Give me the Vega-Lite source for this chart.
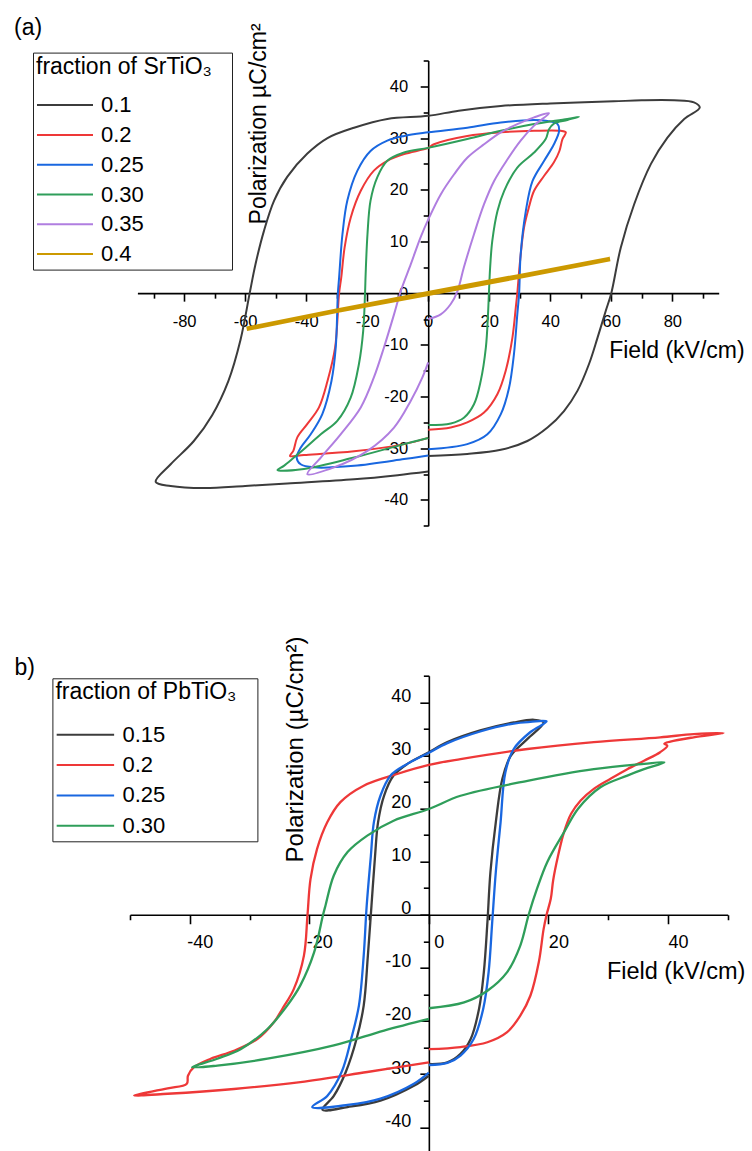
{
"$schema": "https://vega.github.io/schema/vega-lite/v6.json",
"background": "white",
"padding": {"left": 14, "top": 16.5, "right": 0, "bottom": 0},
"config": {
 "font": "Liberation Sans",
 "view": {"stroke": null},
 "axis": {"grid": false, "domainColor": "#000", "tickColor": "#000", "labelColor": "#000", "titleColor": "#000", "titleFontWeight": "normal", "domainWidth": 1.6, "tickWidth": 1.6, "labelFlush": false, "labelOverlap": false, "labelBound": false},
 "legend": {"titleFontWeight": "normal", "titleColor": "#000", "labelColor": "#000"},
 "title": {"fontWeight": "normal", "color": "#000"}
},
"datasets": {
"a": [
{"s":"0.1","i":0,"E":0,"P":-31.5},{"s":"0.1","i":1,"E":12.8,"P":-31.1},{"s":"0.1","i":2,"E":23.8,"P":-30.3},{"s":"0.1","i":3,"E":32.5,"P":-28.6},{"s":"0.1","i":4,"E":39.1,"P":-26.0},{"s":"0.1","i":5,"E":44.5,"P":-22.8},{"s":"0.1","i":6,"E":48.9,"P":-18.9},{"s":"0.1","i":7,"E":52.7,"P":-13.7},{"s":"0.1","i":8,"E":55.5,"P":-8.6},{"s":"0.1","i":9,"E":58.2,"P":-3.4},{"s":"0.1","i":10,"E":60,"P":0},{"s":"0.1","i":11,"E":63.1,"P":8.8},{"s":"0.1","i":12,"E":67.5,"P":17.2},{"s":"0.1","i":13,"E":73.0,"P":25.0},{"s":"0.1","i":14,"E":78.4,"P":30.1},{"s":"0.1","i":15,"E":83.9,"P":33.7},{"s":"0.1","i":16,"E":89,"P":35.9},{"s":"0.1","i":17,"E":87.1,"P":36.9},{"s":"0.1","i":18,"E":80.6,"P":37.3},{"s":"0.1","i":19,"E":70,"P":37.3},{"s":"0.1","i":20,"E":60.8,"P":37.1},{"s":"0.1","i":21,"E":40,"P":36.7},{"s":"0.1","i":22,"E":23.8,"P":36.2},{"s":"0.1","i":23,"E":10,"P":35.3},{"s":"0.1","i":24,"E":0,"P":34.3},{"s":"0.1","i":25,"E":-13.4,"P":33.7},{"s":"0.1","i":26,"E":-24.3,"P":32.0},{"s":"0.1","i":27,"E":-33.0,"P":30.0},{"s":"0.1","i":28,"E":-39.6,"P":27.0},{"s":"0.1","i":29,"E":-46.2,"P":22.5},{"s":"0.1","i":30,"E":-50.5,"P":17.9},{"s":"0.1","i":31,"E":-53.8,"P":12.1},{"s":"0.1","i":32,"E":-56.6,"P":5.6},{"s":"0.1","i":33,"E":-58.5,"P":0},{"s":"0.1","i":34,"E":-61.5,"P":-9},{"s":"0.1","i":35,"E":-65.5,"P":-17},{"s":"0.1","i":36,"E":-70.8,"P":-23.6},{"s":"0.1","i":37,"E":-76.8,"P":-28.6},{"s":"0.1","i":38,"E":-84.4,"P":-33.1},{"s":"0.1","i":39,"E":-89.3,"P":-36.5},{"s":"0.1","i":40,"E":-84.4,"P":-37.3},{"s":"0.1","i":41,"E":-73.5,"P":-37.7},{"s":"0.1","i":42,"E":-60,"P":-37.3},{"s":"0.1","i":43,"E":-46.2,"P":-36.8},{"s":"0.1","i":44,"E":-24.3,"P":-36.0},{"s":"0.1","i":45,"E":-10,"P":-35.2},{"s":"0.1","i":46,"E":0,"P":-34.5},
{"s":"0.2","i":0,"E":0,"P":-26.4},{"s":"0.2","i":1,"E":7.4,"P":-26.0},{"s":"0.2","i":2,"E":12.8,"P":-25.0},{"s":"0.2","i":3,"E":18.3,"P":-23.1},{"s":"0.2","i":4,"E":22.7,"P":-19.5},{"s":"0.2","i":5,"E":25.4,"P":-15.0},{"s":"0.2","i":6,"E":27.6,"P":-8.6},{"s":"0.2","i":7,"E":28.7,"P":-2.8},{"s":"0.2","i":8,"E":29.2,"P":0},{"s":"0.2","i":9,"E":30.1,"P":6.2},{"s":"0.2","i":10,"E":31.4,"P":12.7},{"s":"0.2","i":11,"E":33.0,"P":16.6},{"s":"0.2","i":12,"E":34.7,"P":19.8},{"s":"0.2","i":13,"E":38.0,"P":22.7},{"s":"0.2","i":14,"E":41.2,"P":25.3},{"s":"0.2","i":15,"E":43.0,"P":27.5},{"s":"0.2","i":16,"E":44.0,"P":29.8},{"s":"0.2","i":17,"E":45.1,"P":31.1},{"s":"0.2","i":18,"E":43.4,"P":31.4},{"s":"0.2","i":19,"E":34.7,"P":31.4},{"s":"0.2","i":20,"E":23.8,"P":31.1},{"s":"0.2","i":21,"E":12.8,"P":30.4},{"s":"0.2","i":22,"E":1.9,"P":28.8},{"s":"0.2","i":23,"E":0,"P":28.1},{"s":"0.2","i":24,"E":-7.9,"P":26.9},{"s":"0.2","i":25,"E":-13.4,"P":25.6},{"s":"0.2","i":26,"E":-17.8,"P":23.7},{"s":"0.2","i":27,"E":-22.1,"P":19.8},{"s":"0.2","i":28,"E":-25.4,"P":14.6},{"s":"0.2","i":29,"E":-27.4,"P":8.8},{"s":"0.2","i":30,"E":-28.5,"P":3.0},{"s":"0.2","i":31,"E":-29.2,"P":0},{"s":"0.2","i":32,"E":-30.5,"P":-10.5},{"s":"0.2","i":33,"E":-33,"P":-17},{"s":"0.2","i":34,"E":-35.8,"P":-22.1},{"s":"0.2","i":35,"E":-39.6,"P":-25.3},{"s":"0.2","i":36,"E":-42.9,"P":-27.9},{"s":"0.2","i":37,"E":-44.2,"P":-30.5},{"s":"0.2","i":38,"E":-45.3,"P":-31.5},{"s":"0.2","i":39,"E":-40.7,"P":-31.3},{"s":"0.2","i":40,"E":-24.3,"P":-30.6},{"s":"0.2","i":41,"E":-7.9,"P":-29.2},{"s":"0.2","i":42,"E":0,"P":-28.0},
{"s":"0.25","i":0,"E":0,"P":-30.2},{"s":"0.25","i":1,"E":12.8,"P":-29.2},{"s":"0.25","i":2,"E":19.4,"P":-27.3},{"s":"0.25","i":3,"E":23.8,"P":-23.4},{"s":"0.25","i":4,"E":26.5,"P":-18.3},{"s":"0.25","i":5,"E":28.1,"P":-11.8},{"s":"0.25","i":6,"E":29.2,"P":-4.1},{"s":"0.25","i":7,"E":29.8,"P":0},{"s":"0.25","i":8,"E":30.3,"P":7.5},{"s":"0.25","i":9,"E":32.0,"P":15.9},{"s":"0.25","i":10,"E":34.2,"P":21.7},{"s":"0.25","i":11,"E":38.0,"P":25.6},{"s":"0.25","i":12,"E":41.2,"P":28.8},{"s":"0.25","i":13,"E":42.9,"P":31.4},{"s":"0.25","i":14,"E":42.4,"P":32.7},{"s":"0.25","i":15,"E":39.1,"P":33.3},{"s":"0.25","i":16,"E":34.7,"P":33.5},{"s":"0.25","i":17,"E":23.8,"P":33.0},{"s":"0.25","i":18,"E":12.8,"P":32.0},{"s":"0.25","i":19,"E":0,"P":31.1},{"s":"0.25","i":20,"E":-7.9,"P":30.4},{"s":"0.25","i":21,"E":-13.4,"P":29.5},{"s":"0.25","i":22,"E":-18.9,"P":27.5},{"s":"0.25","i":23,"E":-23.2,"P":23.7},{"s":"0.25","i":24,"E":-26.5,"P":17.9},{"s":"0.25","i":25,"E":-28.1,"P":11.4},{"s":"0.25","i":26,"E":-29.2,"P":3.0},{"s":"0.25","i":27,"E":-29.6,"P":0},{"s":"0.25","i":28,"E":-30.3,"P":-10.5},{"s":"0.25","i":29,"E":-31.7,"P":-17},{"s":"0.25","i":30,"E":-34.7,"P":-23.4},{"s":"0.25","i":31,"E":-38.5,"P":-27.3},{"s":"0.25","i":32,"E":-41.8,"P":-29.9},{"s":"0.25","i":33,"E":-43.1,"P":-31.8},{"s":"0.25","i":34,"E":-41.8,"P":-33.1},{"s":"0.25","i":35,"E":-37.4,"P":-33.7},{"s":"0.25","i":36,"E":-24.3,"P":-33.4},{"s":"0.25","i":37,"E":-7.9,"P":-32.1},{"s":"0.25","i":38,"E":0,"P":-31.4},
{"s":"0.30","i":0,"E":0,"P":-25.5},{"s":"0.30","i":1,"E":7.4,"P":-25.2},{"s":"0.30","i":2,"E":11.7,"P":-24.1},{"s":"0.30","i":3,"E":15,"P":-21.5},{"s":"0.30","i":4,"E":17.2,"P":-17},{"s":"0.30","i":5,"E":18.9,"P":-10.5},{"s":"0.30","i":6,"E":19.6,"P":-4.1},{"s":"0.30","i":7,"E":19.9,"P":0},{"s":"0.30","i":8,"E":20.3,"P":5.0},{"s":"0.30","i":9,"E":21.0,"P":10.1},{"s":"0.30","i":10,"E":22.7,"P":15.9},{"s":"0.30","i":11,"E":24.9,"P":19.8},{"s":"0.30","i":12,"E":29.2,"P":24.3},{"s":"0.30","i":13,"E":34.7,"P":27.2},{"s":"0.30","i":14,"E":38.5,"P":29.8},{"s":"0.30","i":15,"E":39.6,"P":31.7},{"s":"0.30","i":16,"E":41.2,"P":32.8},{"s":"0.30","i":17,"E":45.6,"P":33.5},{"s":"0.30","i":18,"E":49.4,"P":34.1},{"s":"0.30","i":19,"E":45.6,"P":33.7},{"s":"0.30","i":20,"E":34.7,"P":32.7},{"s":"0.30","i":21,"E":23.8,"P":31.4},{"s":"0.30","i":22,"E":12.8,"P":29.8},{"s":"0.30","i":23,"E":0,"P":28.1},{"s":"0.30","i":24,"E":-7.9,"P":27.2},{"s":"0.30","i":25,"E":-13.4,"P":25.6},{"s":"0.30","i":26,"E":-16.7,"P":22.4},{"s":"0.30","i":27,"E":-18.9,"P":17.9},{"s":"0.30","i":28,"E":-19.9,"P":11.4},{"s":"0.30","i":29,"E":-20.5,"P":3.7},{"s":"0.30","i":30,"E":-20.7,"P":0},{"s":"0.30","i":31,"E":-21.3,"P":-7.3},{"s":"0.30","i":32,"E":-22.7,"P":-13.7},{"s":"0.30","i":33,"E":-25.4,"P":-20.2},{"s":"0.30","i":34,"E":-29.8,"P":-24.7},{"s":"0.30","i":35,"E":-35.2,"P":-27.3},{"s":"0.30","i":36,"E":-40.2,"P":-29.9},{"s":"0.30","i":37,"E":-44,"P":-31.8},{"s":"0.30","i":38,"E":-47.3,"P":-33.4},{"s":"0.30","i":39,"E":-49.4,"P":-34.2},{"s":"0.30","i":40,"E":-40.7,"P":-34.0},{"s":"0.30","i":41,"E":-24.3,"P":-31.8},{"s":"0.30","i":42,"E":-7.9,"P":-29.2},{"s":"0.30","i":43,"E":0,"P":-28.0},
{"s":"0.35","i":0,"E":0,"P":-5.0},{"s":"0.35","i":1,"E":4.1,"P":-4.1},{"s":"0.35","i":2,"E":7.4,"P":-2.1},{"s":"0.35","i":3,"E":9.6,"P":0.4},{"s":"0.35","i":4,"E":11.7,"P":5.0},{"s":"0.35","i":5,"E":15.0,"P":11.4},{"s":"0.35","i":6,"E":18.3,"P":17.2},{"s":"0.35","i":7,"E":21.6,"P":21.7},{"s":"0.35","i":8,"E":26.0,"P":25.9},{"s":"0.35","i":9,"E":30.3,"P":29.5},{"s":"0.35","i":10,"E":34.7,"P":32.4},{"s":"0.35","i":11,"E":39.6,"P":34.8},{"s":"0.35","i":12,"E":34.7,"P":34.0},{"s":"0.35","i":13,"E":29.2,"P":32.7},{"s":"0.35","i":14,"E":23.8,"P":31.1},{"s":"0.35","i":15,"E":18.3,"P":28.8},{"s":"0.35","i":16,"E":12.8,"P":26.2},{"s":"0.35","i":17,"E":8.5,"P":23.0},{"s":"0.35","i":18,"E":4.1,"P":19.1},{"s":"0.35","i":19,"E":0.3,"P":14.6},{"s":"0.35","i":20,"E":-2.5,"P":10.8},{"s":"0.35","i":21,"E":-5.7,"P":5.6},{"s":"0.35","i":22,"E":-9.0,"P":0.4},{"s":"0.35","i":23,"E":-11.2,"P":-4.1},{"s":"0.35","i":24,"E":-14.5,"P":-10.5},{"s":"0.35","i":25,"E":-17.8,"P":-16.3},{"s":"0.35","i":26,"E":-22.1,"P":-22.1},{"s":"0.35","i":27,"E":-28.7,"P":-27.3},{"s":"0.35","i":28,"E":-35.2,"P":-31.8},{"s":"0.35","i":29,"E":-39.6,"P":-35.0},{"s":"0.35","i":30,"E":-30.9,"P":-33.7},{"s":"0.35","i":31,"E":-19.9,"P":-30.5},{"s":"0.35","i":32,"E":-11.2,"P":-26.0},{"s":"0.35","i":33,"E":-5.7,"P":-20.8},{"s":"0.35","i":34,"E":-1.9,"P":-16.3},{"s":"0.35","i":35,"E":0,"P":-13.4},
{"s":"0.4","i":0,"E":0,"P":0},{"s":"0.4","i":1,"E":30,"P":3.3},{"s":"0.4","i":2,"E":59.6,"P":6.6},{"s":"0.4","i":3,"E":30,"P":3.2},{"s":"0.4","i":4,"E":0,"P":-0.1},{"s":"0.4","i":5,"E":-30,"P":-3.4},{"s":"0.4","i":6,"E":-59.5,"P":-6.9},{"s":"0.4","i":7,"E":-30,"P":-3.4},{"s":"0.4","i":8,"E":0,"P":0}
],
"b": [
{"s":"0.15","i":0,"E":0,"P":-28.1},{"s":"0.15","i":1,"E":3.1,"P":-27.8},{"s":"0.15","i":2,"E":5.3,"P":-26.2},{"s":"0.15","i":3,"E":7.0,"P":-23.4},{"s":"0.15","i":4,"E":8.4,"P":-17.7},{"s":"0.15","i":5,"E":9.2,"P":-10.8},{"s":"0.15","i":6,"E":9.8,"P":-1.4},{"s":"0.15","i":7,"E":10.3,"P":8.0},{"s":"0.15","i":8,"E":11.2,"P":17.4},{"s":"0.15","i":9,"E":12.3,"P":25.6},{"s":"0.15","i":10,"E":13.7,"P":29.9},{"s":"0.15","i":11,"E":16.5,"P":33.1},{"s":"0.15","i":12,"E":19.2,"P":36.2},{"s":"0.15","i":13,"E":17.6,"P":36.7},{"s":"0.15","i":14,"E":14.2,"P":36.2},{"s":"0.15","i":15,"E":8.6,"P":34.7},{"s":"0.15","i":16,"E":3.1,"P":32.5},{"s":"0.15","i":17,"E":0,"P":30.6},{"s":"0.15","i":18,"E":-3.6,"P":28.4},{"s":"0.15","i":19,"E":-5.9,"P":26.2},{"s":"0.15","i":20,"E":-7.5,"P":22.4},{"s":"0.15","i":21,"E":-8.5,"P":17.4},{"s":"0.15","i":22,"E":-9.0,"P":11.1},{"s":"0.15","i":23,"E":-9.6,"P":1.7},{"s":"0.15","i":24,"E":-10.2,"P":-7.7},{"s":"0.15","i":25,"E":-10.9,"P":-17.1},{"s":"0.15","i":26,"E":-12.1,"P":-23.4},{"s":"0.15","i":27,"E":-13.9,"P":-29.6},{"s":"0.15","i":28,"E":-15.9,"P":-34.1},{"s":"0.15","i":29,"E":-17.8,"P":-36.7},{"s":"0.15","i":30,"E":-13.6,"P":-36.2},{"s":"0.15","i":31,"E":-8.1,"P":-35.0},{"s":"0.15","i":32,"E":-2.5,"P":-32.2},{"s":"0.15","i":33,"E":0,"P":-30.3},
{"s":"0.2","i":0,"E":0,"P":-25.3},{"s":"0.2","i":1,"E":5.3,"P":-24.9},{"s":"0.2","i":2,"E":9.8,"P":-24.0},{"s":"0.2","i":3,"E":13.1,"P":-22.1},{"s":"0.2","i":4,"E":15.3,"P":-19.0},{"s":"0.2","i":5,"E":17.0,"P":-15.2},{"s":"0.2","i":6,"E":18.4,"P":-8.9},{"s":"0.2","i":7,"E":19.2,"P":-2.7},{"s":"0.2","i":8,"E":19.7,"P":0},{"s":"0.2","i":9,"E":20.4,"P":3.0},{"s":"0.2","i":10,"E":20.8,"P":6.5},{"s":"0.2","i":11,"E":21.6,"P":11},{"s":"0.2","i":12,"E":22.6,"P":15.5},{"s":"0.2","i":13,"E":23.8,"P":19},{"s":"0.2","i":14,"E":25.4,"P":21.5},{"s":"0.2","i":15,"E":27.6,"P":23.7},{"s":"0.2","i":16,"E":30.4,"P":25.6},{"s":"0.2","i":17,"E":33.2,"P":27.4},{"s":"0.2","i":18,"E":36.0,"P":29.0},{"s":"0.2","i":19,"E":38.7,"P":30.6},{"s":"0.2","i":20,"E":39.9,"P":31.8},{"s":"0.2","i":21,"E":39.4,"P":32.2},{"s":"0.2","i":22,"E":40.4,"P":32.6},{"s":"0.2","i":23,"E":44.3,"P":33.4},{"s":"0.2","i":24,"E":49.3,"P":34.2},{"s":"0.2","i":25,"E":44.3,"P":34.0},{"s":"0.2","i":26,"E":38.7,"P":33.4},{"s":"0.2","i":27,"E":27.6,"P":32.5},{"s":"0.2","i":28,"E":16.5,"P":31.2},{"s":"0.2","i":29,"E":5.3,"P":29.3},{"s":"0.2","i":30,"E":0,"P":28.2},{"s":"0.2","i":31,"E":-5.3,"P":26.5},{"s":"0.2","i":32,"E":-10.9,"P":24.3},{"s":"0.2","i":33,"E":-14.8,"P":21.2},{"s":"0.2","i":34,"E":-17.0,"P":17.4},{"s":"0.2","i":35,"E":-18.7,"P":12.4},{"s":"0.2","i":36,"E":-19.8,"P":6.7},{"s":"0.2","i":37,"E":-20.3,"P":0},{"s":"0.2","i":38,"E":-20.9,"P":-7.7},{"s":"0.2","i":39,"E":-22.6,"P":-14.0},{"s":"0.2","i":40,"E":-24.5,"P":-17.7},{"s":"0.2","i":41,"E":-25.9,"P":-20.2},{"s":"0.2","i":42,"E":-28.7,"P":-23.4},{"s":"0.2","i":43,"E":-32.6,"P":-25.6},{"s":"0.2","i":44,"E":-36.5,"P":-27.1},{"s":"0.2","i":45,"E":-39.3,"P":-28.7},{"s":"0.2","i":46,"E":-40.3,"P":-30.3},{"s":"0.2","i":47,"E":-40.5,"P":-31.8},{"s":"0.2","i":48,"E":-43.7,"P":-32.7},{"s":"0.2","i":49,"E":-49.3,"P":-34.0},{"s":"0.2","i":50,"E":-43.7,"P":-33.7},{"s":"0.2","i":51,"E":-32.6,"P":-32.8},{"s":"0.2","i":52,"E":-21.5,"P":-31.5},{"s":"0.2","i":53,"E":-10.3,"P":-29.6},{"s":"0.2","i":54,"E":0,"P":-27.8},
{"s":"0.25","i":0,"E":0,"P":-28.3},{"s":"0.25","i":1,"E":3.1,"P":-27.9},{"s":"0.25","i":2,"E":5.3,"P":-26.5},{"s":"0.25","i":3,"E":7.5,"P":-23.4},{"s":"0.25","i":4,"E":9.1,"P":-17.7},{"s":"0.25","i":5,"E":10.0,"P":-10.8},{"s":"0.25","i":6,"E":10.6,"P":-1.4},{"s":"0.25","i":7,"E":11.2,"P":8.0},{"s":"0.25","i":8,"E":12.0,"P":17.4},{"s":"0.25","i":9,"E":12.8,"P":26.8},{"s":"0.25","i":10,"E":14.2,"P":31.2},{"s":"0.25","i":11,"E":17.0,"P":34.4},{"s":"0.25","i":12,"E":19.7,"P":36.4},{"s":"0.25","i":13,"E":17.0,"P":36.3},{"s":"0.25","i":14,"E":14.2,"P":36.0},{"s":"0.25","i":15,"E":8.6,"P":34.5},{"s":"0.25","i":16,"E":3.1,"P":32.3},{"s":"0.25","i":17,"E":0,"P":30.5},{"s":"0.25","i":18,"E":-3.6,"P":28.4},{"s":"0.25","i":19,"E":-6.4,"P":26.2},{"s":"0.25","i":20,"E":-8.1,"P":22.4},{"s":"0.25","i":21,"E":-9.2,"P":17.4},{"s":"0.25","i":22,"E":-9.7,"P":11.1},{"s":"0.25","i":23,"E":-10.4,"P":1.7},{"s":"0.25","i":24,"E":-10.9,"P":-7.7},{"s":"0.25","i":25,"E":-11.7,"P":-17.1},{"s":"0.25","i":26,"E":-13.0,"P":-23.4},{"s":"0.25","i":27,"E":-14.6,"P":-29.6},{"s":"0.25","i":28,"E":-17.0,"P":-34.1},{"s":"0.25","i":29,"E":-19.5,"P":-36.2},{"s":"0.25","i":30,"E":-13.6,"P":-35.8},{"s":"0.25","i":31,"E":-8.1,"P":-34.6},{"s":"0.25","i":32,"E":-2.5,"P":-31.8},{"s":"0.25","i":33,"E":0,"P":-29.7},
{"s":"0.30","i":0,"E":0,"P":-17.6},{"s":"0.30","i":1,"E":5.9,"P":-16.5},{"s":"0.30","i":2,"E":9.8,"P":-14.3},{"s":"0.30","i":3,"E":13.1,"P":-10.8},{"s":"0.30","i":4,"E":15.3,"P":-5.8},{"s":"0.30","i":5,"E":16.7,"P":0},{"s":"0.30","i":6,"E":18.1,"P":4.9},{"s":"0.30","i":7,"E":19.8,"P":9.9},{"s":"0.30","i":8,"E":22.6,"P":15.5},{"s":"0.30","i":9,"E":25.0,"P":20.0},{"s":"0.30","i":10,"E":28.7,"P":24.0},{"s":"0.30","i":11,"E":33.2,"P":26.2},{"s":"0.30","i":12,"E":36.0,"P":27.4},{"s":"0.30","i":13,"E":39.4,"P":28.7},{"s":"0.30","i":14,"E":36.0,"P":28.4},{"s":"0.30","i":15,"E":27.6,"P":27.4},{"s":"0.30","i":16,"E":16.5,"P":25.2},{"s":"0.30","i":17,"E":5.3,"P":22.4},{"s":"0.30","i":18,"E":0,"P":19.9},{"s":"0.30","i":19,"E":-5.9,"P":17.7},{"s":"0.30","i":20,"E":-10.3,"P":14.9},{"s":"0.30","i":21,"E":-13.6,"P":11.8},{"s":"0.30","i":22,"E":-15.9,"P":7.4},{"s":"0.30","i":23,"E":-17.3,"P":1.7},{"s":"0.30","i":24,"E":-17.7,"P":0},{"s":"0.30","i":25,"E":-19.2,"P":-7.1},{"s":"0.30","i":26,"E":-21.5,"P":-13.3},{"s":"0.30","i":27,"E":-23.7,"P":-17.1},{"s":"0.30","i":28,"E":-27.0,"P":-21.5},{"s":"0.30","i":29,"E":-31.5,"P":-25.3},{"s":"0.30","i":30,"E":-35.4,"P":-27.1},{"s":"0.30","i":31,"E":-39.6,"P":-28.7},{"s":"0.30","i":32,"E":-35.4,"P":-28.4},{"s":"0.30","i":33,"E":-27.0,"P":-27.1},{"s":"0.30","i":34,"E":-15.9,"P":-24.6},{"s":"0.30","i":35,"E":-7.5,"P":-21.8},{"s":"0.30","i":36,"E":0,"P":-19.6}
]
},
"vconcat": [
{
 "width": 588.7, "height": 465.3,
 "title": {"text": "(a)", "anchor": "start", "frame": "group", "fontSize": 23, "dx": -116, "dy": 35.3, "offset": 0, "baseline": "alphabetic"},
 "data": {"name": "a"},
 "resolve": {"axis": {"x": "independent", "y": "independent"}},
 "layer": [
  {
   "transform": [{"filter": "datum.s !== '0.4'"}],
   "mark": {"type": "line", "strokeWidth": 2, "strokeJoin": "round", "interpolate": "catmull-rom"},
   "encoding": {
    "x": {"field": "E", "type": "quantitative", "scale": {"domain": [-95.3, 95.2], "range": [7.4, 588.7], "nice": false, "zero": false},
      "axis": {"orient": "bottom", "offset": -232.65, "values": [-80,-60,-40,-20,0,20,40,60,80], "tickSize": 8, "labelFontSize": 16.5, "labelPadding": 12, "labelExpr": "'' + datum.value", "title": "Field (kV/cm)", "titleFontSize": 23, "titleX": 478.7, "titleY": 64.4, "titleAlign": "left", "titleBaseline": "alphabetic"}},
    "y": {"field": "P", "type": "quantitative", "scale": {"domain": [-45, 45], "nice": false, "zero": false},
      "axis": {"orient": "left", "offset": -298.2, "values": [-40,-30,-20,-10,0,10,20,30,40], "tickSize": 8, "labelFontSize": 16.5, "labelPadding": 12.5, "labelExpr": "'' + datum.value", "title": "Polarization µC/cm²", "titleFontSize": 23, "titleX": -162.5, "titleY": 62.9, "titleAlign": "center", "titleBaseline": "alphabetic"}},
    "color": {"field": "s", "type": "nominal", "scale": {"domain": ["0.1","0.2","0.25","0.30","0.35","0.4"], "range": ["#3c3c3c","#ee3838","#1967e0","#2f9e5a","#b07ee0","#cc9900"]},
      "legend": {"orient": "none", "legendX": -97, "legendY": -7.9, "title": "fraction of SrTiO₃\u2800", "titleFontSize": 23, "titlePadding": 14.5, "labelFontSize": 22, "labelOffset": 7, "symbolType": "stroke", "symbolSize": 3136, "symbolStrokeWidth": 2, "symbolOffset": 0, "clipHeight": 24, "rowPadding": 5.8, "padding": 3, "strokeColor": "#222", "fillColor": "white", "titleLimit": 500, "labelLimit": 300}},
    "order": {"field": "i", "type": "quantitative"}
   }
  },
  {
   "transform": [{"filter": "datum.s === '0.4'"}],
   "mark": {"type": "line", "strokeWidth": 4.5},
   "encoding": {
    "x": {"field": "E", "type": "quantitative", "scale": {"domain": [-95.3, 95.2], "range": [7.4, 588.7], "nice": false, "zero": false},
      "axis": {"orient": "bottom", "offset": -232.65, "values": [-90,-70,-50,-30,-10,10,30,50,70,90], "tickSize": 5, "labels": false, "domain": false, "title": null}},
    "y": {"field": "P", "type": "quantitative", "scale": {"domain": [-45, 45], "nice": false, "zero": false},
      "axis": {"orient": "left", "offset": -298.2, "values": [-45,-35,-25,-15,-5,5,15,25,35,45], "tickSize": 5, "labels": false, "domain": false, "title": null}},
    "color": {"field": "s", "type": "nominal", "scale": {"domain": ["0.1","0.2","0.25","0.30","0.35","0.4"], "range": ["#3c3c3c","#ee3838","#1967e0","#2f9e5a","#b07ee0","#cc9900"]}, "legend": null},
    "order": {"field": "i", "type": "quantitative"}
   }
  }
 ]
},
{
 "width": 597.7, "height": 478.1,
 "title": {"text": "b)", "anchor": "start", "frame": "group", "fontSize": 23, "dx": -115.5, "dy": 61.8, "offset": 0, "baseline": "alphabetic"},
 "data": {"name": "b"},
 "resolve": {"axis": {"x": "independent", "y": "independent"}},
 "layer": [
  {
   "transform": [{"filter": "datum.s === '0.15' || datum.s === '0.2'"}],
   "mark": {"type": "line", "strokeWidth": 2.3, "strokeJoin": "round", "interpolate": "catmull-rom"},
   "encoding": {
    "x": {"field": "E", "type": "quantitative", "scale": {"domain": [-50, 50], "nice": false, "zero": false},
      "axis": {"orient": "bottom", "offset": -239.05, "values": [-40,-20,0,20,40], "tickSize": 9, "labelFontSize": 18, "labelPadding": 10, "labelOffset": 10, "labelExpr": "'' + datum.value", "title": "Field (kV/cm)", "titleFontSize": 23.5, "titleX": 476.4, "titleY": 64.2, "titleAlign": "left", "titleBaseline": "alphabetic"}},
    "y": {"field": "P", "type": "quantitative", "scale": {"domain": [-45, 45], "nice": false, "zero": false},
      "axis": {"orient": "left", "offset": -298.85, "values": [-40,-30,-20,-10,0,10,20,30,40], "tickSize": 9, "labelFontSize": 18, "labelPadding": 9, "labelOffset": -6, "labelExpr": "'' + datum.value", "title": "Polarization (µC/cm²)", "titleFontSize": 24, "titleX": -126.2, "titleY": 73.3, "titleAlign": "center", "titleBaseline": "alphabetic"}},
    "color": {"field": "s", "type": "nominal", "scale": {"domain": ["0.15","0.2","0.25","0.30"], "range": ["#3c3c3c","#ee3838","#1967e0","#2f9e5a"]},
      "legend": {"orient": "none", "legendX": -77.6, "legendY": 2.6, "title": "fraction of PbTiO₃\u2800", "titleFontSize": 23, "titlePadding": 18.5, "labelFontSize": 22, "labelOffset": 7, "symbolType": "stroke", "symbolSize": 3300, "symbolStrokeWidth": 2, "symbolOffset": 0, "clipHeight": 24, "rowPadding": 6.3, "padding": 3, "strokeColor": "#222", "fillColor": "white", "titleLimit": 500, "labelLimit": 300}},
    "order": {"field": "i", "type": "quantitative"}
   }
  },
  {
   "transform": [{"filter": "datum.s === '0.25' || datum.s === '0.30'"}],
   "mark": {"type": "line", "strokeWidth": 2.3, "strokeJoin": "round", "interpolate": "catmull-rom"},
   "encoding": {
    "x": {"field": "E", "type": "quantitative", "scale": {"domain": [-50, 50], "nice": false, "zero": false},
      "axis": {"orient": "bottom", "offset": -239.05, "values": [-50,-30,-10,10,30,50], "tickSize": 5, "labels": false, "domain": false, "title": null}},
    "y": {"field": "P", "type": "quantitative", "scale": {"domain": [-45, 45], "nice": false, "zero": false},
      "axis": {"orient": "left", "offset": -298.85, "values": [-45,-35,-25,-15,-5,5,15,25,35,45], "tickSize": 5.5, "labels": false, "domain": false, "title": null}},
    "color": {"field": "s", "type": "nominal", "scale": {"domain": ["0.15","0.2","0.25","0.30"], "range": ["#3c3c3c","#ee3838","#1967e0","#2f9e5a"]}, "legend": null},
    "order": {"field": "i", "type": "quantitative"}
   }
  }
 ]
}
],
"spacing": 149.2,
"bounds": "flush",
"resolve": {"scale": {"x": "independent", "y": "independent", "color": "independent"}, "legend": {"color": "independent"}, "axis": {"x": "independent", "y": "independent"}}
}
